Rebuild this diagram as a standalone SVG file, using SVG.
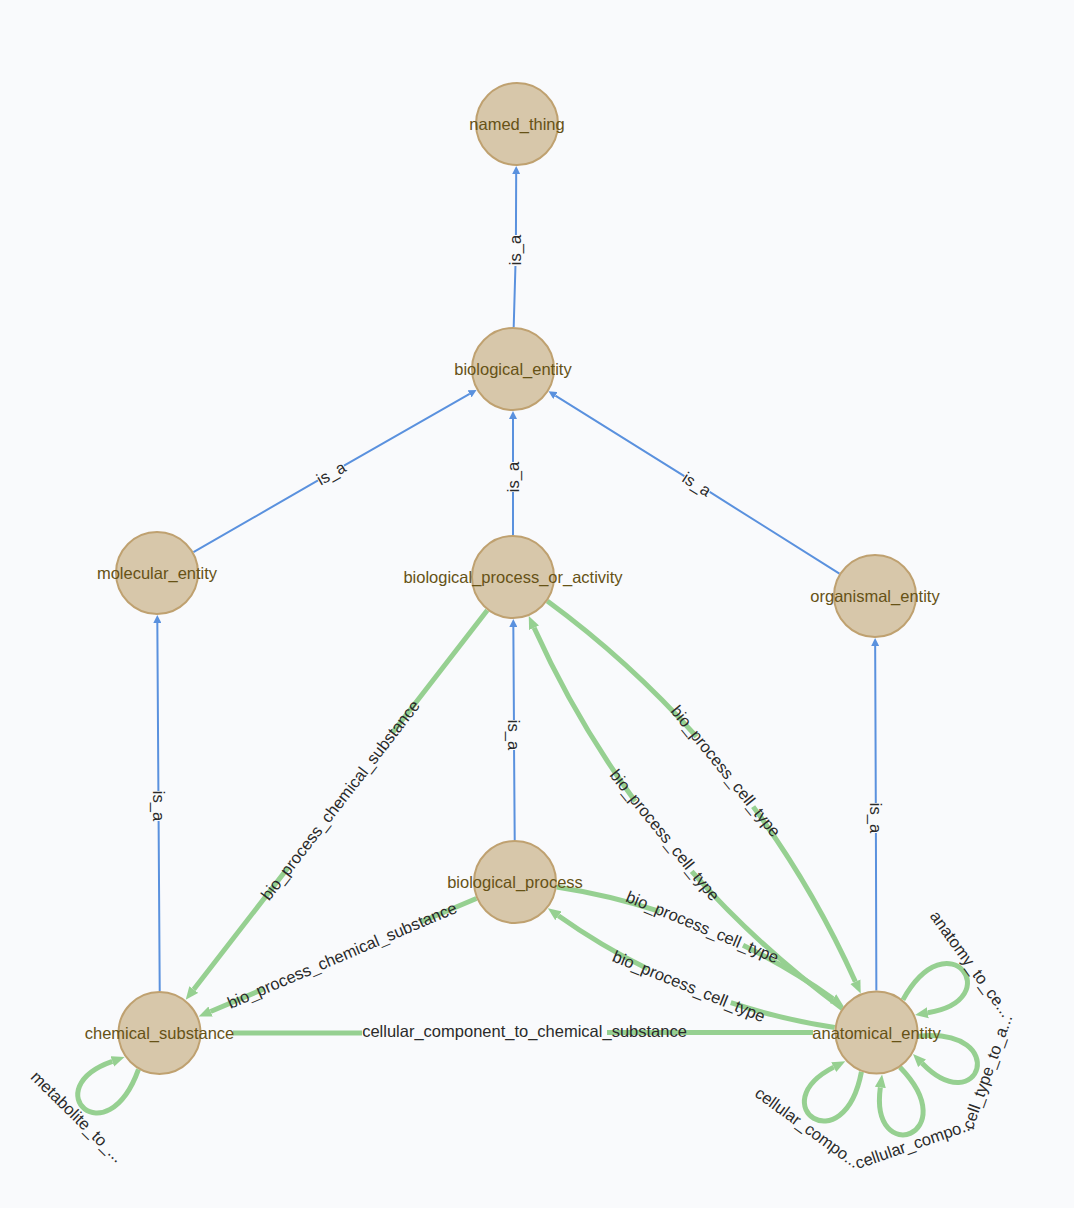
<svg xmlns="http://www.w3.org/2000/svg" width="1074" height="1208" viewBox="0 0 1074 1208">
<defs>
<style>
.bg{fill:#f9fafc}
.node circle{fill:#d7c7aa;stroke:#bfa170;stroke-width:2}
.node text{font-family:"Liberation Sans",Arial,sans-serif;font-size:16.5px;fill:#665216;text-anchor:middle;dominant-baseline:central}
.isa{stroke:#5a91de;stroke-width:2;fill:none;marker-end:url(#ab)}
.rel{stroke:#96d091;stroke-width:5;fill:none}
.arr{marker-end:url(#ag)}
.el{font-family:"Liberation Sans",Arial,sans-serif;font-size:16.5px;fill:#2a2a2a;text-anchor:middle;dominant-baseline:central}
</style>
<marker id="ab" markerUnits="userSpaceOnUse" markerWidth="9" markerHeight="8" refX="0" refY="4" orient="auto"><path d="M0,0 L8,4 L0,8 Z" fill="#5a91de"/></marker>
<marker id="ag" markerUnits="userSpaceOnUse" markerWidth="14" markerHeight="12" refX="0" refY="6" orient="auto"><path d="M0,0.5 L13,6 L0,11.5 Z" fill="#96d091"/></marker>
</defs>
<rect class="bg" x="0" y="0" width="1074" height="1208"/>
<g id="links">
<path class="isa" d="M513.69,327 L515.44,266 M515.93,235 L516.18,174"/>
<path class="isa" d="M513,535 L513,492 M513,462 L513,419"/>
<path class="isa" d="M193.44,552.12 L318,480.46 M344.02,465.54 L469.61,393.86"/>
<path class="isa" d="M839.42,573.69 L709.7,491.97 M684.3,476.03 L555.36,395.56"/>
<path class="isa" d="M159.73,991 L158.6,821 M158.4,791 L157.33,623"/>
<path class="isa" d="M514.72,840 L514.05,750 M513.95,720 L513.33,627"/>
<path class="isa" d="M876.36,990.5 L875.9,833 M875.8,803 L875.17,646"/>
<path class="rel arr" d="M487.29,610.21 L392.41,732.77 M288.36,867.19 L193.67,989.51"/>
<path class="rel arr" d="M476.35,898.44 L420.22,922.32 M263.78,988.85 L210.61,1011.47"/>
<path class="rel" d="M233,1033 L362,1033 M607,1032.6 L813,1032.5"/>
<path class="rel arr" stroke-dasharray="202 90 1000" d="M547.29,601.01 A961.6,961.6 0 0 1 855.39,981.71"/>
<path class="rel arr" stroke-dasharray="204 90 1000" d="M842.21,1008.49 A961.6,961.6 0 0 1 534.11,627.79"/>
<path class="rel arr" stroke-dasharray="106 90 1000" d="M556.65,886.95 A646.1,646.1 0 0 1 833.05,998.75"/>
<path class="rel arr" stroke-dasharray="107 90 1000" d="M834.75,1027.55 A646.1,646.1 0 0 1 558.45,915.75"/>
<path class="rel arr" d="M902.93,999.86 C948.57,917.17 1008.46,999.6 927.85,1012.79"/>
<path class="rel arr" d="M918.34,1036.16 C1012.42,1027.75 979.14,1121.73 922.1,1063.26"/>
<path class="rel arr" d="M899.99,1067.32 C965.73,1135.14 869.38,1168.31 880.34,1087.37"/>
<path class="rel arr" d="M861.45,1071.71 C843.6,1164.46 761.17,1104.57 833.76,1067.11"/>
<path class="rel arr" d="M138.5,1069.37 C106.36,1158.19 35.26,1088.31 112.35,1061.33"/>
<text class="el" transform="translate(515,250) rotate(-90)">is_a</text>
<text class="el" transform="translate(513,477) rotate(-90)">is_a</text>
<text class="el" transform="translate(331,473) rotate(-29.8)">is_a</text>
<text class="el" transform="translate(697,484) rotate(32.1)">is_a</text>
<text class="el" transform="translate(158.5,806) rotate(90)">is_a</text>
<text class="el" transform="translate(514,735) rotate(90)">is_a</text>
<text class="el" transform="translate(876,818) rotate(90)">is_a</text>
<text class="el" transform="translate(340,800) rotate(-52.25)">bio_process_chemical_substance</text>
<text class="el" transform="translate(342,955) rotate(-23.04)">bio_process_chemical_substance</text>
<text class="el" transform="translate(524.5,1031)">cellular_component_to_chemical_substance</text>
<text class="el" transform="translate(726,771) rotate(51)">bio_process_cell_type</text>
<text class="el" transform="translate(665,835) rotate(51)">bio_process_cell_type</text>
<text class="el" transform="translate(702.5,926.7) rotate(22.5)">bio_process_cell_type</text>
<text class="el" transform="translate(689,986) rotate(22.2)">bio_process_cell_type</text>
<text class="el" transform="translate(971.2,963.7) rotate(54)">anatomy_to_ce...</text>
<text class="el" transform="translate(986.8,1071.6) rotate(-70.5)">cell_type_to_a...</text>
<text class="el" transform="translate(914.6,1143.1) rotate(-19)">cellular_compo...</text>
<text class="el" transform="translate(807.7,1127.2) rotate(36)">cellular_compo...</text>
<text class="el" transform="translate(77.5,1116.4) rotate(44.5)">metabolite_to_...</text>
</g>
<g id="named_thing" class="node"><circle cx="517" cy="124" r="41"/><text x="517" y="124">named_thing</text></g>
<g id="biological_entity" class="node"><circle cx="513" cy="369" r="41"/><text x="513" y="369">biological_entity</text></g>
<g id="molecular_entity" class="node"><circle cx="157" cy="573" r="41"/><text x="157" y="573">molecular_entity</text></g>
<g id="biological_process_or_activity" class="node"><circle cx="513" cy="577" r="41"/><text x="513" y="577">biological_process_or_activity</text></g>
<g id="organismal_entity" class="node"><circle cx="875" cy="596" r="41"/><text x="875" y="596">organismal_entity</text></g>
<g id="biological_process" class="node"><circle cx="515" cy="882" r="41"/><text x="515" y="882">biological_process</text></g>
<g id="chemical_substance" class="node"><circle cx="159.5" cy="1033" r="41"/><text x="159.5" y="1033">chemical_substance</text></g>
<g id="anatomical_entity" class="node"><circle cx="876.5" cy="1032.5" r="41"/><text x="876.5" y="1032.5">anatomical_entity</text></g>
</svg>
